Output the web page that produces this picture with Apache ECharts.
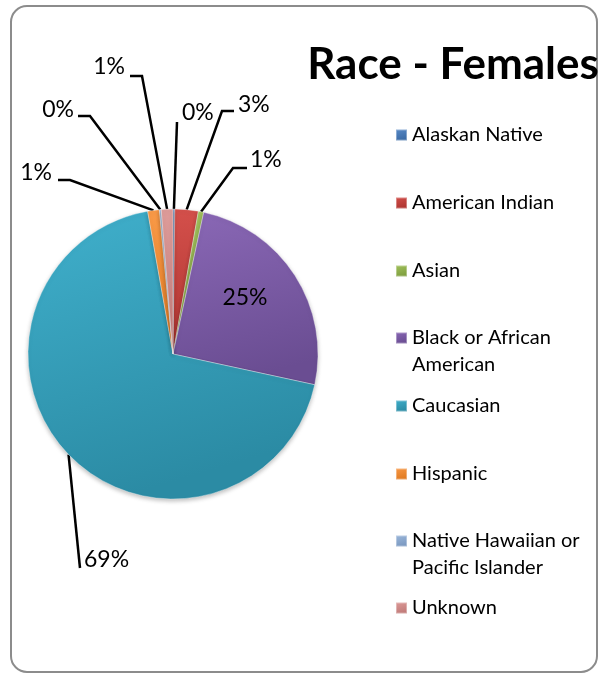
<!DOCTYPE html>
<html>
<head>
<meta charset="utf-8">
<script src="https://cdn.jsdelivr.net/npm/echarts@6/dist/echarts.min.js"></script>
<style>
  html, body { margin: 0; padding: 0; background: #ffffff; }
  #chart { width: 600px; height: 675px; }
</style>
</head>
<body>
<div id="chart"></div>
<script>
// ---- data ----
const titleText = 'Race - Females';
const categories = [
  'Alaskan Native',
  'American Indian',
  'Asian',
  'Black or African American',
  'Caucasian',
  'Hispanic',
  'Native Hawaiian or Pacific Islander',
  'Unknown'
];
const percentValues = [0.2, 2.6, 0.6, 25.0, 68.8, 1.3, 0.2, 1.3];
const legendLabels = [
  'Alaskan Native',
  'American Indian',
  'Asian',
  '\nBlack or African\nAmerican',
  'Caucasian',
  'Hispanic',
  '\nNative Hawaiian or\nPacific Islander',
  'Unknown'
];
const sliceColors = [
  ['#5A8BC8', '#3A6AA5'],
  ['#D4504B', '#AE3531'],
  ['#A3C35E', '#7E9E3E'],
  ['#8A68B6', '#6A4D92'],
  ['#40B0CC', '#2B8BA4'],
  ['#F99A48', '#E07A20'],
  ['#9DB9DC', '#7A98C0'],
  ['#DE9C9A', '#C07A78']
];

// ---- layout (label anchors & leader-line bends) ----
const labelSpots = [
  { x: 182, y: 113, align: 'left',  line: [[177, 122]] },
  { x: 238, y: 105, align: 'left',  line: [[222, 111], [234, 111]] },
  { x: 250, y: 160, align: 'left',  line: [[233, 168], [247, 168]] },
  { x: 245, y: 298, align: 'center', line: null },
  { x: 84,  y: 560, align: 'left',  line: [[80, 568]] },
  { x: 52,  y: 173, align: 'right', line: [[70, 180], [58, 180]] },
  { x: 74,  y: 110, align: 'right', line: [[90, 116], [78, 116]] },
  { x: 125, y: 67,  align: 'right', line: [[142, 76], [130, 76]] }
];
const legendCenters = [135, 203, 271, 338, 406, 474, 541, 608];
const legendLine = 27;

const chart = echarts.init(document.getElementById('chart'), null, { renderer: 'canvas' });

function grad(c) {
  return new echarts.graphic.LinearGradient(0, 0, 0.3, 1, [
    { offset: 0, color: c[0] },
    { offset: 1, color: c[1] }
  ]);
}

const pieData = categories.map((name, i) => ({
  name: name,
  value: percentValues[i],
  itemStyle: { color: grad(sliceColors[i]) },
  labelLine: { show: labelSpots[i].line !== null }
}));

const legends = categories.map((name, i) => {
  const lines = legendLabels[i].split('\n').length;
  return {
    data: [name],
    orient: 'vertical',
    left: 395,
    top: legendCenters[i] - (lines * legendLine) / 2,
    icon: 'rect',
    itemWidth: 11,
    itemHeight: 11,
    padding: 0,
    selectedMode: false,
    formatter: () => legendLabels[i],
    textStyle: {
      fontFamily: 'Lato',
      fontSize: 20,
      lineHeight: legendLine,
      color: '#000'
    }
  };
});

function edgePoint(idx) {
  const layout = chart.getModel().getSeriesByIndex(0).getData().getItemLayout(idx);
  const mid = (layout.startAngle + layout.endAngle) / 2;
  return [layout.cx + layout.r * Math.cos(mid), layout.cy + layout.r * Math.sin(mid)];
}

const option = {
  backgroundColor: '#ffffff',
  animation: false,
  title: {
    text: titleText,
    left: 448,
    top: 38,
    textAlign: 'center',
    textStyle: { fontFamily: 'Lato', fontWeight: 'bold', fontSize: 44, color: '#000' }
  },
  graphic: [{
    type: 'rect',
    silent: true,
    z: -10,
    shape: { x: 11, y: 6, width: 586, height: 666, r: 16 },
    style: { fill: '#ffffff', stroke: '#8c8c8c', lineWidth: 2 }
  }],
  legend: legends,
  series: [{
    type: 'pie',
    center: [173, 354],
    radius: [0, 145],
    startAngle: 90,
    clockwise: true,
    avoidLabelOverlap: false,
    data: pieData,
    itemStyle: {
      borderColor: 'rgba(255,255,255,0.35)',
      borderWidth: 1,
      shadowBlur: 4,
      shadowOffsetY: 2,
      shadowColor: 'rgba(0,0,0,0.25)'
    },
    label: {
      show: true,
      position: 'outside',
      fontFamily: 'Lato',
      fontSize: 23,
      color: '#000',
      formatter: p => Math.round(p.percent) + '%'
    },
    labelLine: {
      show: true,
      length: 10,
      length2: 10,
      lineStyle: { color: '#000', width: 2.5 }
    },
    labelLayout: function (p) {
      const s = labelSpots[p.dataIndex];
      if (!s.line) {
        return { x: s.x, y: s.y, align: s.align, verticalAlign: 'middle' };
      }
      const start = (p.labelLinePoints && p.labelLinePoints[0]) || edgePoint(p.dataIndex);
      return {
        x: s.x, y: s.y, align: s.align, verticalAlign: 'middle',
        labelLinePoints: [start].concat(s.line)
      };
    },
    emphasis: { disabled: true }
  }]
};

chart.setOption(option);
</script>
</body>
</html>
